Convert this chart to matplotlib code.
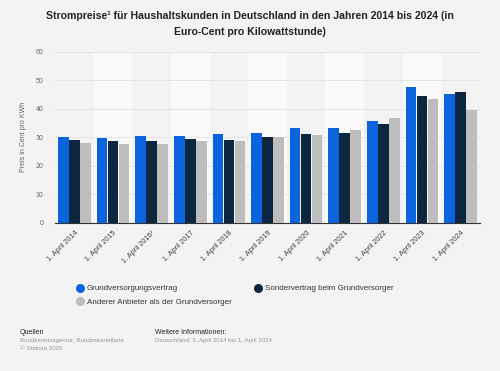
import matplotlib.pyplot as plt
import numpy as np
from matplotlib.lines import Line2D

plt.rcParams['font.family'] = ['Liberation Sans', 'DejaVu Sans']

# Daten (Cent pro kWh)
jahre = ["1. April 2014", "1. April 2015", "1. April 2016²", "1. April 2017",
         "1. April 2018", "1. April 2019", "1. April 2020", "1. April 2021",
         "1. April 2022", "1. April 2023", "1. April 2024"]
grundversorgung = [30.1, 29.7, 30.4, 30.6, 31.1, 31.5, 33.4, 33.4, 35.6, 47.6, 45.3]
sondervertrag = [29.1, 28.7, 28.7, 29.3, 29.2, 30.1, 31.3, 31.5, 34.6, 44.5, 45.8]
anderer_anbieter = [28.1, 27.7, 27.8, 28.7, 28.6, 30.1, 30.8, 32.6, 36.9, 43.6, 39.5]
serien = ["Grundversorgungsvertrag", "Sondervertrag beim Grundversorger",
          "Anderer Anbieter als der Grundversorger"]
farben = ["#0b64de", "#0d2741", "#bdbdbd"]

bg = "#f3f3f3"
fig = plt.figure(figsize=(5, 3.71), dpi=100, facecolor=bg)
ax = fig.add_axes([0.11, 0.3997, 0.85, 0.4603])
ax.set_facecolor(bg)

x = np.arange(len(jahre))
w = 0.285
for i, (werte, farbe) in enumerate(zip([grundversorgung, sondervertrag, anderer_anbieter], farben)):
    ax.bar(x + (i - 1) * w, werte, width=w * 0.96, color=farbe, label=serien[i], zorder=3)

# hellere Streifen fuer jede zweite Kategorie
for k in range(1, len(jahre), 2):
    ax.axvspan(k - 0.5, k + 0.5, color="#fafafa", zorder=0, lw=0)

ax.set_xlim(-0.5, len(jahre) - 0.5)
ax.set_ylim(0, 60)
ax.set_yticks(range(0, 61, 10))
ax.yaxis.grid(True, color="#e2e2e2", lw=0.6, zorder=1)
ax.tick_params(axis="y", length=0, labelsize=5, colors="#666666", pad=8.5)
ax.set_xticks(x)
ax.set_xticklabels(jahre, rotation=45, ha="right", rotation_mode="anchor",
                   fontsize=5.2, color="#444444")
ax.tick_params(axis="x", length=0, pad=5)
for s in ["top", "right", "left"]:
    ax.spines[s].set_visible(False)
ax.spines["bottom"].set_color("#333333")
ax.spines["bottom"].set_linewidth(0.8)
ax.set_ylabel("Preis in Cent pro KWh", fontsize=5, color="#666666")
ax.yaxis.set_label_coords(-0.065, 0.5)

fig.text(0.5, 0.972, "Strompreise¹ für Haushaltskunden in Deutschland in den Jahren 2014 bis 2024 (in\nEuro-Cent pro Kilowattstunde)",
         ha="center", va="top", fontsize=7.6, fontweight="bold", color="#222222", linespacing=1.8)

handles = [Line2D([], [], marker="o", ls="", markersize=5.5, color=c) for c in farben]
order = [0, 2, 1]
leg = fig.legend([handles[i] for i in order], [serien[i] for i in order],
                 loc="upper left", bbox_to_anchor=(0.137, 0.252), ncol=2,
                 frameon=False, fontsize=5.8, handletextpad=0.4,
                 columnspacing=2.7, labelspacing=0.7, handlelength=1.0)
for t in leg.get_texts():
    t.set_color("#333333")

fig.text(0.04, 0.100, "Quellen", fontsize=5, color="#222222")
fig.text(0.04, 0.078, "Bundesnetzagentur; Bundeskartellamt", fontsize=4.45, color="#999999")
fig.text(0.04, 0.056, "© Statista 2025", fontsize=4.45, color="#999999")
fig.text(0.31, 0.100, "Weitere Informationen:", fontsize=5, color="#222222")
fig.text(0.31, 0.078, "Deutschland; 1. April 2014 bis 1. April 2024", fontsize=4.45, color="#999999")

fig.savefig("out.png", dpi=100, facecolor=bg)
